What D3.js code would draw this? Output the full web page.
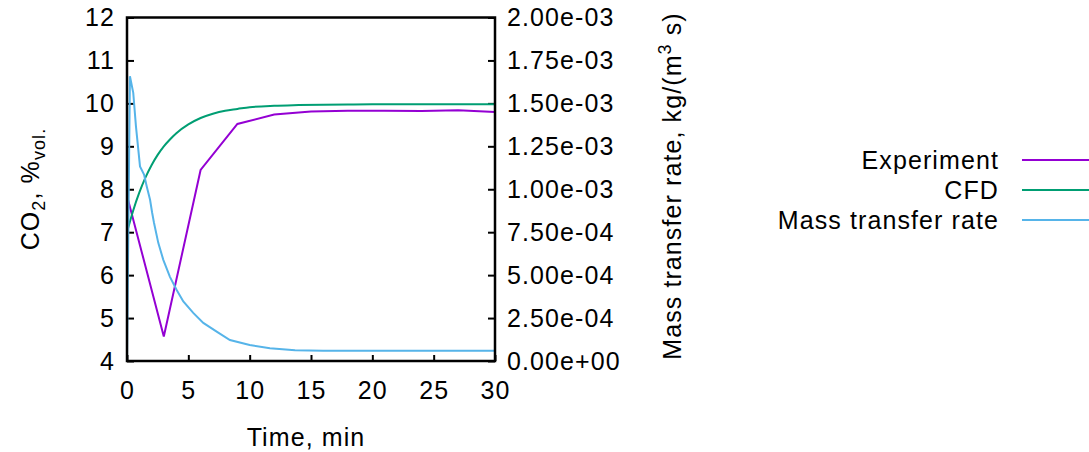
<!DOCTYPE html>
<html>
<head>
<meta charset="utf-8">
<script src="https://cdn.jsdelivr.net/npm/d3@7"></script>
<style>
  html, body { margin: 0; padding: 0; background: #fff; }
  svg text { font-family: "Liberation Sans", Arial, sans-serif; font-size: 25px; fill: #000; letter-spacing: 1.1px; }
</style>
</head>
<body>
<svg id="chart" width="1089" height="452"></svg>
<script>
// ---- data ----
const expTime  = [0, 3, 6, 9, 12, 15, 18, 21, 24, 27, 30];
const expCO2   = [7.85, 4.57, 8.45, 9.52, 9.74, 9.81, 9.83, 9.83, 9.82, 9.84, 9.80];

const cfdTime  = [0, 0.5, 1, 1.5, 2, 2.5, 3, 3.5, 4, 5, 6, 7, 8, 9, 10, 12, 14, 16, 18, 20, 25, 30];
const cfdCO2   = [7.00, 7.50, 7.92, 8.27, 8.56, 8.80, 9.00, 9.16, 9.30, 9.51, 9.66, 9.76, 9.83, 9.87, 9.91, 9.945, 9.96, 9.97, 9.975, 9.98, 9.98, 9.98];

const mtrTime  = [0, 0.24, 0.51, 0.73, 1.06, 1.39, 1.61, 1.88, 2.05, 2.2, 2.55, 2.96, 3.5, 4.05, 4.59, 5.4, 6.22, 7.31, 8.39, 10.0, 11.65, 13.7, 16, 20, 25, 30];
const mtrRate  = [0, 1.658e-3, 1.561e-3, 1.366e-3, 1.133e-3, 1.085e-3, 1.016e-3, 0.939e-3, 0.863e-3, 0.805e-3, 0.688e-3, 0.589e-3, 0.490e-3, 0.414e-3, 0.347e-3, 0.280e-3, 0.222e-3, 0.171e-3, 0.122e-3, 0.093e-3, 0.074e-3, 0.062e-3, 0.060e-3, 0.060e-3, 0.060e-3, 0.060e-3];

const xTicks      = [0, 5, 10, 15, 20, 25, 30];
const yLeftTicks  = [4, 5, 6, 7, 8, 9, 10, 11, 12];
const yRightTicks = [0, 0.25e-3, 0.5e-3, 0.75e-3, 1.0e-3, 1.25e-3, 1.5e-3, 1.75e-3, 2.0e-3];
const yRightTickLabels = ["0.00e+00", "2.50e-04", "5.00e-04", "7.50e-04", "1.00e-03", "1.25e-03", "1.50e-03", "1.75e-03", "2.00e-03"];

const seriesNames  = ["Experiment", "CFD", "Mass transfer rate"];
const seriesColors = ["#9400d3", "#009e73", "#56b4e9"];

// ---- layout ----
const L = 127, R = 495, T = 17.5, B = 361;
const svg = d3.select("#chart");

const x  = d3.scaleLinear().domain([0, 30]).range([L, R]);
const yL = d3.scaleLinear().domain([4, 12]).range([B, T]);
const yR = d3.scaleLinear().domain([0, 2e-3]).range([B, T]);

// axes
const axL = svg.append("g").attr("transform", `translate(${L},0)`)
  .call(d3.axisLeft(yL).tickValues(yLeftTicks).tickSize(-7).tickPadding(12).tickFormat(d3.format("d")));
const axR = svg.append("g").attr("transform", `translate(${R},0)`)
  .call(d3.axisRight(yR).tickValues(yRightTicks).tickSize(-7).tickPadding(12)
    .tickFormat((d, i) => yRightTickLabels[i]));
const axB = svg.append("g").attr("transform", `translate(0,${B})`)
  .call(d3.axisBottom(x).tickValues(xTicks).tickSize(-6).tickPadding(20).tickFormat(d3.format("d")));

[axL, axR, axB].forEach(g => {
  g.attr("font-size", null).attr("font-family", null);
  g.select(".domain").remove();
  g.selectAll(".tick line").attr("stroke", "#000").attr("stroke-width", 2);
});

// lines
const lineExp = d3.line().x((d, i) => x(expTime[i])).y(d => yL(d));
const lineCfd = d3.line().x((d, i) => x(cfdTime[i])).y(d => yL(d)).curve(d3.curveMonotoneX);
const lineMtr = d3.line().x((d, i) => x(mtrTime[i])).y(d => yR(d));

const plot = svg.append("g");
plot.append("path").attr("d", lineExp(expCO2)).attr("fill", "none").attr("stroke", seriesColors[0]).attr("stroke-width", 2);
plot.append("path").attr("d", lineCfd(cfdCO2)).attr("fill", "none").attr("stroke", seriesColors[1]).attr("stroke-width", 2);
plot.append("path").attr("d", lineMtr(mtrRate)).attr("fill", "none").attr("stroke", seriesColors[2]).attr("stroke-width", 2);

// border
svg.append("rect").attr("x", L).attr("y", T).attr("width", R - L).attr("height", B - T)
  .attr("fill", "none").attr("stroke", "#000").attr("stroke-width", 2.5);

// axis titles
svg.append("text").attr("x", 306).attr("y", 446).attr("text-anchor", "middle").text("Time, min");

const yt = svg.append("text").attr("transform", "translate(39,189) rotate(-90)").attr("text-anchor", "middle");
yt.append("tspan").text("CO");
yt.append("tspan").attr("dy", 6).style("font-size", "18px").text("2");
yt.append("tspan").attr("dy", -6).text(", %");
yt.append("tspan").attr("dy", 6).style("font-size", "18px").text("vol.");

const rt = svg.append("text").attr("transform", "translate(681,186) rotate(-90)").attr("text-anchor", "middle");
rt.append("tspan").text("Mass transfer rate, kg/(m");
rt.append("tspan").attr("dy", -10).style("font-size", "18px").text("3");
rt.append("tspan").attr("dy", 10).text(" s)");

// legend
const legY = [160, 190, 220];
seriesNames.forEach((name, i) => {
  svg.append("text").attr("x", 999).attr("y", legY[i]).attr("dy", "0.35em").attr("text-anchor", "end").text(name);
  svg.append("line").attr("x1", 1022).attr("x2", 1095).attr("y1", legY[i]).attr("y2", legY[i])
    .attr("stroke", seriesColors[i]).attr("stroke-width", 2);
});
</script>
</body>
</html>
